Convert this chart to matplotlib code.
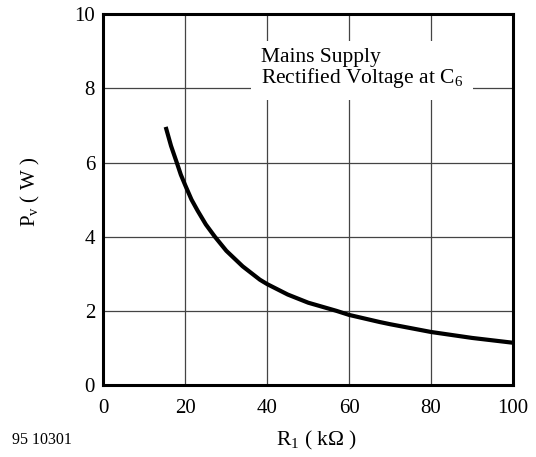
import numpy as np
import matplotlib
matplotlib.use("Agg")
import matplotlib.pyplot as plt

# curve: R1 (kOhm) vs Pv (W)
r1 = [15.2, 16.5, 17.9, 18.9, 20, 21.5, 23, 25, 27.2, 30, 34, 38.2, 40, 45, 50,
      56.9, 60, 67.4, 70, 80, 90, 100]
pv = [6.96, 6.45, 6.0, 5.67, 5.38, 5.0, 4.70, 4.33, 4.0, 3.62, 3.2, 2.84, 2.72, 2.44, 2.22,
      2.0, 1.89, 1.70, 1.64, 1.43, 1.27, 1.14]

x_ticks = [0, 20, 40, 60, 80, 100]
y_ticks = [0, 2, 4, 6, 8, 10]

plt.rcParams.update({
    "font.family": ["Liberation Serif", "DejaVu Serif"],
    "mathtext.fontset": "custom",
    "mathtext.rm": "Liberation Serif",
    "font.size": 15,
})

fig = plt.figure(figsize=(5.36, 4.57), dpi=100)
ax = fig.add_axes([0.193, 0.1575, 0.764, 0.8115])

ax.plot(r1, pv, color="black", lw=3, solid_capstyle="butt", solid_joinstyle="round", zorder=3)

ax.set_xlim(0, 100)
ax.set_ylim(0, 10)
ax.set_xticks(x_ticks)
ax.set_yticks(y_ticks)
ax.tick_params(length=0, labelsize=15)
ax.tick_params(axis="x", pad=10)
ax.tick_params(axis="y", pad=6)
ax.grid(True, color="#444444", lw=0.9)
for s in ax.spines.values():
    s.set_linewidth(2.2)

ax.text(0.385, 0.908, "Mains Supply\nRectified Voltage at C$_6$", transform=ax.transAxes,
        ha="left", va="top", fontsize=15.5, linespacing=0.95, zorder=4,
        bbox=dict(facecolor="white", edgecolor="none", pad=7))

fig.text(0.056, 0.58, "P$_\\mathrm{v}$ ( W )", rotation=90, ha="center", va="center", fontsize=15)
fig.text(0.591, 0.037, "R$_1$ ( k$\\Omega$ )", ha="center", va="center", fontsize=15.5)
fig.text(0.022, 0.037, "95 10301", ha="left", va="center", fontsize=11.5)

fig.savefig("out.png", dpi=100)
